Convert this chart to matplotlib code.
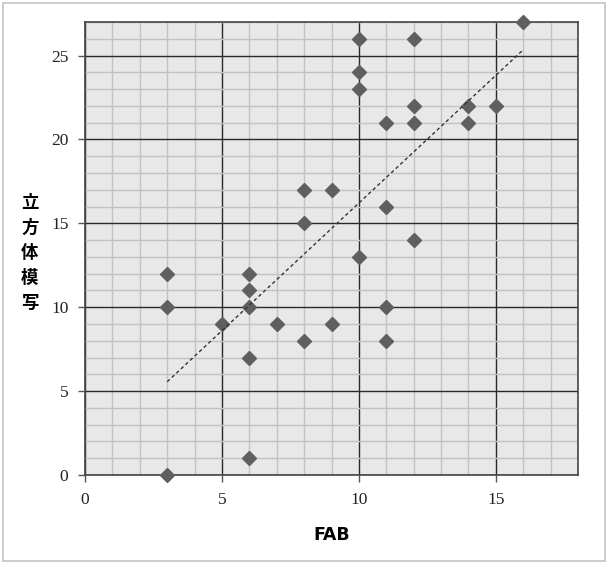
import numpy as np
import matplotlib
matplotlib.use('Agg')
import matplotlib.pyplot as plt
from matplotlib.patches import Rectangle

# FAB score vs cube copying score
fab = [3, 3, 3, 5, 6, 6, 6, 6, 6, 7, 8, 8, 8, 9, 9,
       10, 10, 10, 10, 11, 11, 11, 11, 12, 12, 12, 12, 14, 14, 15, 16]
cube = [12, 10, 0, 9, 12, 11, 10, 7, 1, 9, 17, 15, 8, 17, 9,
        26, 24, 23, 13, 21, 16, 10, 8, 26, 22, 21, 14, 22, 21, 22, 27]
x_ticks = [0, 5, 10, 15]
y_ticks = [0, 5, 10, 15, 20, 25]

fig = plt.figure(figsize=(6.09, 5.64), dpi=100)
# light frame round the whole picture
fig.patches.append(Rectangle((0.005, 0.005), 0.988, 0.99, transform=fig.transFigure,
                             fill=False, edgecolor='#c4c4c4', linewidth=1.2))

ax = fig.add_axes([0.1396, 0.1578, 0.8095, 0.8032])
ax.set_facecolor('#e8e8e8')
ax.set_xlim(0, 18)
ax.set_ylim(0, 27)

ax.set_xticks(x_ticks)
ax.set_yticks(y_ticks)
ax.set_xticks(range(0, 19), minor=True)
ax.set_yticks(range(0, 28), minor=True)
ax.grid(which='minor', color='#c2c2c2', linewidth=1.0)
ax.grid(which='major', color='#2a2a2a', linewidth=1.0)
ax.set_axisbelow(True)
ax.tick_params(which='minor', length=0)
ax.tick_params(which='major', length=5, width=1, color='#555555', pad=7)

for lab in ax.get_xticklabels() + ax.get_yticklabels():
    lab.set_fontfamily('Liberation Serif')
    lab.set_fontsize(12.5)
    lab.set_color('#222222')

for s in ax.spines.values():
    s.set_color('#444444')
    s.set_linewidth(1.2)

ax.plot(fab, cube, 'D', color='#5f5f5f', markersize=7, zorder=3, clip_on=False)

# linear trend line
k, b = np.polyfit(fab, cube, 1)
xs = np.array([min(fab), max(fab)])
ax.plot(xs, k * xs + b, color='#333333', linewidth=1.0,
        linestyle=(0, (2.5, 2)), zorder=4)

ax.set_xlabel('FAB', fontsize=12.5, fontweight='bold', family='DejaVu Sans', labelpad=13)
ax.set_ylabel('\n'.join('立方体模写'), rotation=0, fontsize=12.5, fontweight='bold',
              family=['Noto Sans CJK JP', 'DejaVu Sans'], linespacing=1.5,
              va='center', ha='center')
ax.yaxis.set_label_coords(-0.112, 0.49)

plt.savefig('out.png', dpi=100)
